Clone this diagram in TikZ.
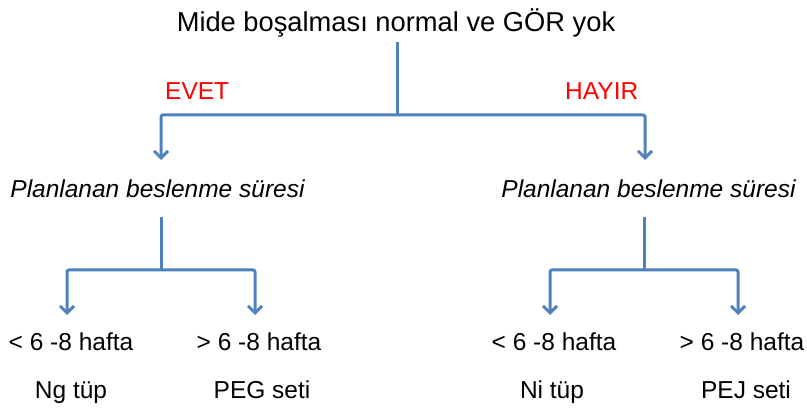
\documentclass[tikz,border=0pt]{standalone}
\usepackage{fontspec}
\setmainfont{Liberation Sans}
\usetikzlibrary{arrows.meta}
\definecolor{linkblue}{HTML}{4F81BD}
\definecolor{yesno}{HTML}{FF0000}
\begin{document}
\begin{tikzpicture}[x=1pt,y=-1pt,
  lbl/.style={inner sep=0pt,anchor=base,font=\fontsize{24.5}{28}\selectfont},
  ttl/.style={inner sep=0pt,anchor=base,font=\fontsize{27.3}{31}\selectfont},
  itl/.style={lbl,font=\fontsize{24.5}{28}\selectfont\itshape},
  red/.style={lbl,anchor=base west,text=yesno},
  conn/.style={draw=linkblue,line width=3pt,rounded corners=2pt},
  arr/.style={conn,-{Straight Barb[length=7pt,width=14pt,line width=3pt]}}]
\useasboundingbox (0,0) rectangle (807,409);
% texts
\node[ttl] (title) at (396,32) {Mide boşalması normal ve GÖR yok};
\node[red] (evet) at (165,100) {EVET};
\node[red] (hayir) at (565,100) {HAYIR};
\node[itl] (pl) at (157.5,198) {Planlanan beslenme süresi};
\node[itl] (pr) at (648.5,198) {Planlanan beslenme süresi};
\node[lbl] (ll) at (71,350) {< 6 -8 hafta};
\node[lbl] (lr) at (259,350) {> 6 -8 hafta};
\node[lbl] (rl) at (554,350) {< 6 -8 hafta};
\node[lbl] (rr) at (742,350) {> 6 -8 hafta};
\node[lbl] (ng) at (71,398) {Ng tüp};
\node[lbl] (peg) at (262,398) {PEG seti};
\node[lbl] (ni) at (552,398) {Ni tüp};
\node[lbl] (pej) at (746,398) {PEJ seti};
% junctions and arrow tips
\coordinate (ttop) at (397,42);
\coordinate (j0) at (397,115);
\coordinate (tl) at (161,160);
\coordinate (tr) at (645,160);
\coordinate (pls) at (161,217);
\coordinate (jl) at (161,270);
\coordinate (prs) at (644,217);
\coordinate (jr) at (644,270);
\coordinate (tll) at (67,315);
\coordinate (tlr) at (255,315);
\coordinate (trl) at (550,315);
\coordinate (trr) at (738,315);
% connectors
\draw[conn] (ttop) -- (j0);
\draw[arr] (j0) -| (tl);
\draw[arr] (j0) -| (tr);
\draw[conn] (pls) -- (jl);
\draw[arr] (jl) -| (tll);
\draw[arr] (jl) -| (tlr);
\draw[conn] (prs) -- (jr);
\draw[arr] (jr) -| (trl);
\draw[arr] (jr) -| (trr);
\end{tikzpicture}
\end{document}
